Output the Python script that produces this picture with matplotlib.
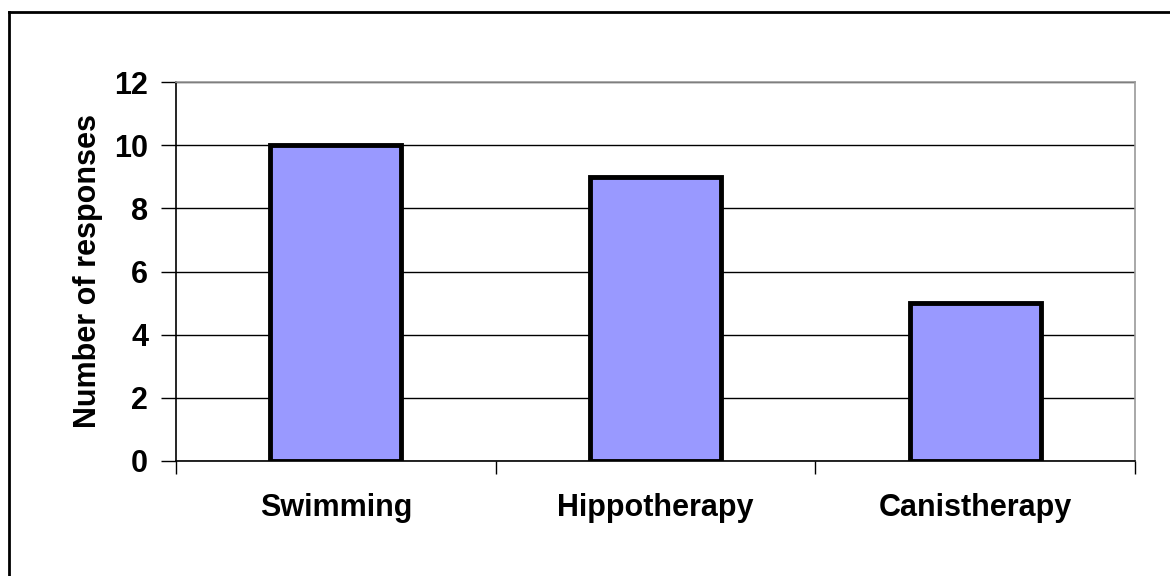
import matplotlib
matplotlib.use("Agg")
import matplotlib.pyplot as plt
from matplotlib.lines import Line2D

categories = ["Swimming", "Hippotherapy", "Canistherapy"]
values = [10, 9, 5]
yticks = [0, 2, 4, 6, 8, 10, 12]

plt.rcParams['font.family'] = ['Liberation Sans', 'DejaVu Sans']

fig = plt.figure(figsize=(11.7, 5.76), dpi=100)
ax = fig.add_axes([176/1170, 115/576, (1135-176)/1170, (461-82)/576])

x = list(range(len(categories)))
ax.set_axisbelow(True)
ax.yaxis.grid(True, color='black', linewidth=1.0)
ax.bar(x, values, width=0.41, color='#9999FF', edgecolor='black', linewidth=3.5, zorder=3)

ax.set_xlim(-0.5, 2.5)
ax.set_ylim(0, 12)
ax.set_yticks(yticks)
ax.set_yticklabels([str(t) for t in yticks], fontsize=22, fontweight='bold')
ax.tick_params(axis='y', direction='out', length=11, width=1, pad=9)

ax.set_xticks([-0.5, 0.5, 1.5, 2.5])
ax.set_xticklabels([])
ax.tick_params(axis='x', direction='out', length=9, width=1)
for xi, c in zip(x, categories):
    ax.text(xi, -1.49, c, transform=ax.transData, ha='center', va='center',
            fontsize=22, fontweight='bold')

ax.spines['left'].set_color('black')
ax.spines['bottom'].set_color('black')
ax.spines['top'].set_color('#999999')
ax.spines['right'].set_color('#999999')
for s in ax.spines.values():
    s.set_linewidth(1.2)

ax.set_ylabel("Number of responses", fontsize=22, fontweight='bold', labelpad=8)

# outer chart border (left and top visible)
fig.add_artist(Line2D([9/1170, 9/1170], [0, 1 - 12/576], transform=fig.transFigure, color='black', linewidth=2))
fig.add_artist(Line2D([9/1170, 1], [1 - 12/576, 1 - 12/576], transform=fig.transFigure, color='black', linewidth=2))

fig.savefig("out.png", dpi=100, facecolor='white')
